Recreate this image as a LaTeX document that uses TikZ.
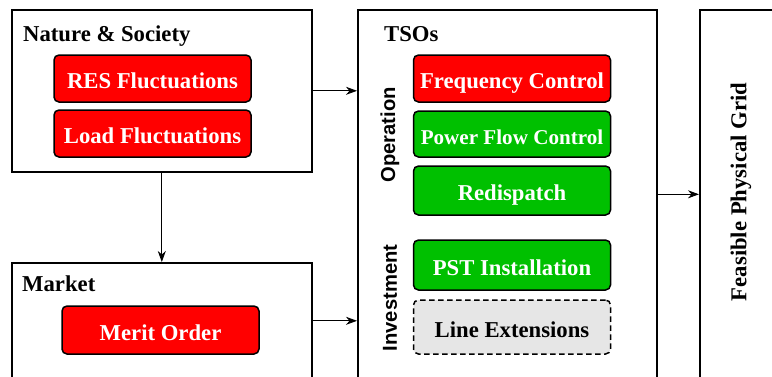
\documentclass[tikz,border=0pt]{standalone}
\usepackage{fontspec}
\setmainfont{Liberation Serif}
\newfontfamily\sidesans{Liberation Sans}
\usetikzlibrary{arrows.meta}

\definecolor{boxred}{RGB}{255,0,0}
\definecolor{boxgreen}{RGB}{0,192,0}
\definecolor{boxgray}{RGB}{230,230,230}

\tikzset{
  frame/.style={draw, line width=1.6pt, anchor=north west, inner sep=0pt},
  item/.style={draw, line width=1.5pt, rounded corners=5pt, minimum width=197pt,
    inner sep=0pt, text height=20pt, text depth=0pt,
    font=\fontsize{22.7}{26}\selectfont\bfseries, text=white},
  redbox/.style={item, fill=boxred},
  greenbox/.style={item, fill=boxgreen},
  grayitem/.style={item, fill=boxgray, text=black, dashed, dash pattern=on 5.5pt off 3.5pt},
  heading/.style={anchor=base west, inner sep=0pt, font=\fontsize{22.7}{26}\selectfont\bfseries},
  sidelabel/.style={rotate=90, inner sep=0pt, font=\fontsize{20.2}{24}\selectfont\sidesans\bfseries},
  link/.style={line width=0.9pt, -{Stealth[length=11pt, width=8pt, inset=3.5pt]}}
}

\begin{document}
\begin{tikzpicture}[x=1pt, y=-1pt]
\useasboundingbox (0,0) rectangle (772,376);
\fill[white] (0,0) rectangle (772,376);
\clip (0,0) rectangle (772,376);

% outer frames
\node[frame, minimum width=300pt, minimum height=162pt] (nature) at (11,9) {};
\node[frame, minimum width=300pt, minimum height=116pt] (market) at (11,262) {};
\node[frame, minimum width=299pt, minimum height=369pt] (tsos) at (357,9) {};
\node[frame, minimum width=120pt, minimum height=369pt] (grid) at (699,9) {};

% frame headings
\node[heading] (natureT) at (23,41) {Nature \& Society};
\node[heading] (marketT) at (22,291) {Market};
\node[heading] (tsosT) at (384,41) {TSOs};
\node[rotate=90, inner sep=0pt, font=\fontsize{22.7}{26}\selectfont\bfseries] (gridT) at (741,192) {Feasible Physical Grid};

% drivers
\node[redbox, minimum height=47pt] (res) at (152.5,78.5) {RES Fluctuations};
\node[redbox, minimum height=47pt] (load) at (152.5,133.5) {Load Fluctuations};
\node[redbox, minimum height=48pt] (merit) at (160.5,330) {Merit Order};

% TSO measures
\node[sidelabel] (oper) at (390,135) {Operation};
\node[sidelabel] (inv) at (390,298) {Investment};
\node[redbox, minimum height=47pt] (freq) at (512,78.5) {Frequency Control};
\node[greenbox, minimum height=46pt, font=\fontsize{21.1}{25}\selectfont\bfseries] (pfc) at (512,134) {Power Flow Control};
\node[greenbox, minimum height=49pt] (redis) at (512,190.5) {Redispatch};
\node[greenbox, minimum height=50pt] (pst) at (512,265) {PST Installation};
\node[grayitem, minimum height=54pt] (lines) at (512,327) {Line Extensions};

% connectors
\draw[link] (nature.east) -- (tsos.west |- nature.east);
\draw[link] (nature.south) -- (market.north);
\draw[link] (market.east) -- (tsos.west |- market.east);
\draw[link] (tsos.east) -- (grid.west);
\end{tikzpicture}
\end{document}
